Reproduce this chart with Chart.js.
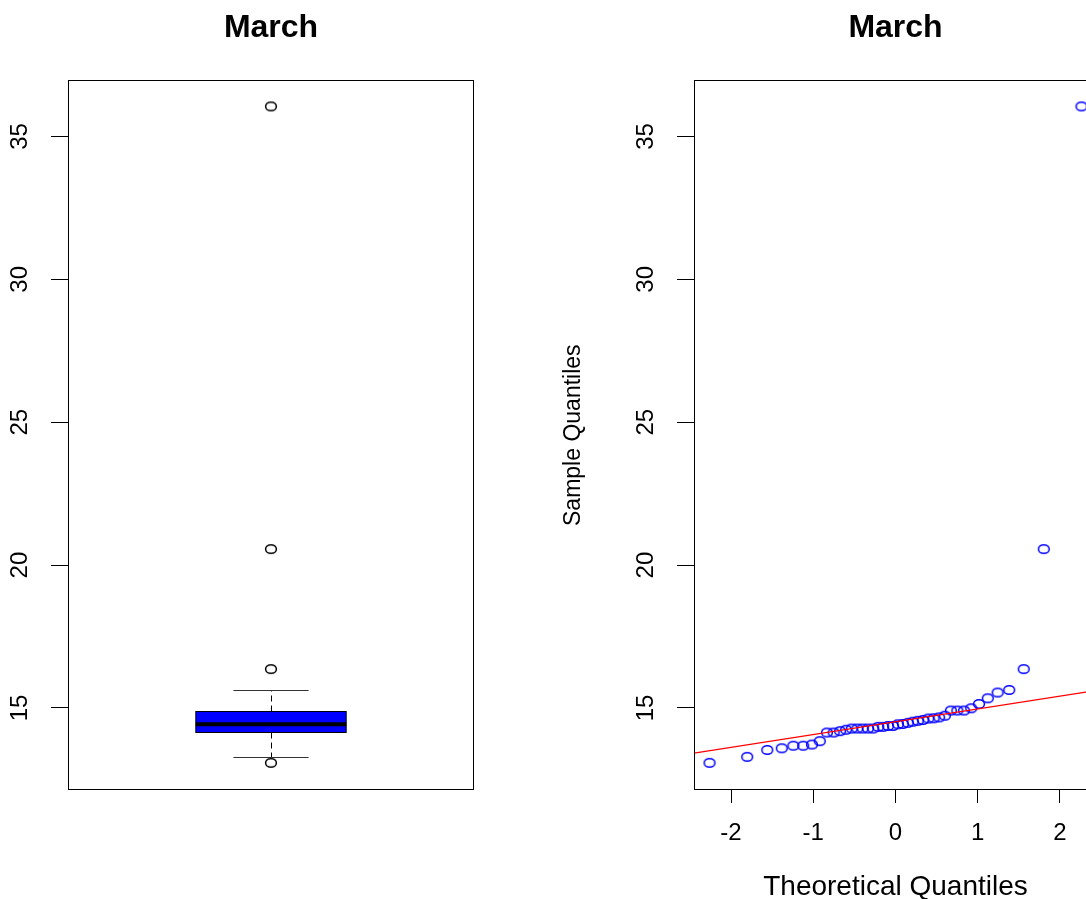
<!DOCTYPE html>
<html>
<head>
<meta charset="utf-8">
<script src="https://cdn.jsdelivr.net/npm/chart.js@4.4.1/dist/chart.umd.min.js"></script>
<style>
  html, body { margin: 0; padding: 0; background: #fff; overflow: hidden; }
  #wrap { position: relative; width: 1086px; height: 899px; overflow: hidden; }
  #boxCanvas { position: absolute; left: 0; top: 0; }
  #qqCanvas { position: absolute; left: 543px; top: 0; }
</style>
</head>
<body>
<div id="wrap">
  <canvas id="boxCanvas" width="542" height="930"></canvas>
  <canvas id="qqCanvas" width="600" height="930"></canvas>
</div>
<script>
// data
const chartTitle = 'March';
const yTicks = [15, 20, 25, 30, 35];
const xTicks = [-2, -1, 0, 1, 2];
const yRange = [12.13, 36.96];
const xRangeQQ = [-2.45, 2.45];

// boxplot: lower whisker, Q1, median, Q3, upper whisker
const boxStats = [13.29, 14.16, 14.43, 14.9, 15.63];
const boxOutliers = [13.08, 16.36, 20.56, 36.05];

// normal QQ plot
const theoQ = [-2.261, -1.803, -1.559, -1.383, -1.242, -1.122, -1.016, -0.921, -0.833, -0.752,
  -0.674, -0.601, -0.531, -0.464, -0.399, -0.335, -0.272, -0.210, -0.150, -0.090, -0.030,
  0.030, 0.090, 0.150, 0.210, 0.272, 0.335, 0.399, 0.464, 0.531, 0.601, 0.674, 0.752,
  0.833, 0.921, 1.016, 1.122, 1.242, 1.383, 1.559, 1.803, 2.261];
const sampleQ = [13.08, 13.29, 13.53, 13.59, 13.68, 13.68, 13.72, 13.84, 14.14, 14.14,
  14.19, 14.24, 14.28, 14.28, 14.28, 14.28, 14.28, 14.34, 14.34, 14.37, 14.37,
  14.43, 14.44, 14.48, 14.52, 14.55, 14.58, 14.63, 14.64, 14.67, 14.73, 14.91, 14.91,
  14.91, 14.99, 15.14, 15.34, 15.54, 15.63, 16.36, 20.56, 36.05];
const qqLine = [14.52, 0.448]; // intercept, slope

const FONT = "'Liberation Sans', Arial, sans-serif";
Chart.defaults.font.family = FONT;
Chart.defaults.color = '#000';

// open ellipse marker (the original circles are a bit wide)
function ringMarker(color) {
  const c = document.createElement('canvas');
  c.width = 14; c.height = 12;
  const g = c.getContext('2d');
  g.strokeStyle = color;
  g.lineWidth = 1.5;
  g.beginPath();
  g.ellipse(7, 6, 5.4, 4.3, 0, 0, Math.PI * 2);
  g.stroke();
  return c;
}

// black frame round the plot area
const frame = {
  id: 'frame',
  afterDatasetsDraw(chart) {
    const { ctx, chartArea: a } = chart;
    ctx.save();
    ctx.strokeStyle = '#000';
    ctx.lineWidth = 1;
    ctx.strokeRect(Math.round(a.left) + 0.5, Math.round(a.top) + 0.5,
      Math.round(a.right - a.left) - 1, Math.round(a.bottom - a.top) - 1);
    ctx.restore();
  }
};

// box, median, whiskers and staples drawn through the chart scales
const boxHalf = 0.2, capHalf = 0.1;
const boxDraw = {
  id: 'boxDraw',
  beforeDatasetsDraw(chart) {
    const { ctx, scales: { x, y } } = chart;
    const [lo, q1, med, q3, hi] = boxStats;
    const xc = Math.round(x.getPixelForValue(1)) + 0.5;
    const xl = x.getPixelForValue(1 - boxHalf), xr = x.getPixelForValue(1 + boxHalf);
    const cl = x.getPixelForValue(1 - capHalf), cr = x.getPixelForValue(1 + capHalf);
    const py = v => Math.round(y.getPixelForValue(v)) + 0.5;

    ctx.save();
    ctx.strokeStyle = '#000';
    ctx.lineWidth = 1;
    ctx.setLineDash([6, 4]);
    ctx.beginPath();
    ctx.moveTo(xc, py(q3)); ctx.lineTo(xc, py(hi));
    ctx.moveTo(xc, py(q1)); ctx.lineTo(xc, py(lo));
    ctx.stroke();
    ctx.setLineDash([]);

    ctx.strokeStyle = '#333';
    ctx.beginPath();
    ctx.moveTo(cl, py(hi)); ctx.lineTo(cr, py(hi));
    ctx.moveTo(cl, py(lo)); ctx.lineTo(cr, py(lo));
    ctx.stroke();

    ctx.fillStyle = '#0000FF';
    ctx.fillRect(xl, py(q3), xr - xl, py(q1) - py(q3));
    ctx.strokeStyle = '#000';
    ctx.strokeRect(xl, py(q3), xr - xl, py(q1) - py(q3));

    ctx.lineWidth = 4;
    ctx.beginPath();
    ctx.moveTo(xl, y.getPixelForValue(med));
    ctx.lineTo(xr, y.getPixelForValue(med));
    ctx.stroke();
    ctx.restore();
  }
};

function yAxis(width, title) {
  return {
    type: 'linear',
    min: yRange[0],
    max: yRange[1],
    afterBuildTicks: s => { s.ticks = yTicks.map(v => ({ value: v })); },
    afterFit: s => { s.width = width; },
    grid: { drawOnChartArea: false, tickLength: 17, tickColor: '#000', tickWidth: 1 },
    border: { display: false },
    ticks: {
      minRotation: 90, maxRotation: 90, crossAlign: 'center', padding: 17,
      color: '#000', font: { family: FONT, size: 24 }
    },
    title: title ? {
      display: true, text: title, color: '#000',
      font: { family: FONT, size: 23 }, padding: { top: 17, bottom: 0 }
    } : { display: false }
  };
}

const titleOpts = {
  display: true,
  text: chartTitle,
  fullSize: false,
  color: '#000',
  font: { family: FONT, size: 32, weight: 'bold' },
  padding: { top: 9, bottom: 33 }
};

// left: boxplot
new Chart(document.getElementById('boxCanvas'), {
  type: 'scatter',
  data: {
    datasets: [{
      label: 'outliers',
      data: boxOutliers.map(v => ({ x: 1, y: v })),
      pointStyle: ringMarker('#000'),
      pointRadius: 5
    }]
  },
  options: {
    responsive: false,
    animation: false,
    layout: { padding: { right: 68, bottom: 140 } },
    plugins: { legend: { display: false }, tooltip: { enabled: false }, title: titleOpts },
    scales: {
      x: { type: 'linear', min: 0.46, max: 1.54, display: false },
      y: yAxis(68, null)
    }
  },
  plugins: [boxDraw, frame]
});

// right: normal QQ plot
new Chart(document.getElementById('qqCanvas'), {
  type: 'scatter',
  data: {
    datasets: [{
      type: 'line',
      label: 'qqline',
      data: xRangeQQ.map(x => ({ x: x, y: qqLine[0] + qqLine[1] * x })),
      borderColor: '#FF0000',
      borderWidth: 1.2,
      pointRadius: 0
    }, {
      label: 'sample',
      data: theoQ.map((q, i) => ({ x: q, y: sampleQ[i] })),
      pointStyle: ringMarker('#0000FF'),
      pointRadius: 5
    }]
  },
  options: {
    responsive: false,
    animation: false,
    layout: { padding: { right: 46 } },
    plugins: { legend: { display: false }, tooltip: { enabled: false }, title: titleOpts },
    scales: {
      x: {
        type: 'linear',
        position: 'bottom',
        min: xRangeQQ[0],
        max: xRangeQQ[1],
        afterBuildTicks: s => { s.ticks = xTicks.map(v => ({ value: v })); },
        afterFit: s => { s.height = 140; },
        grid: { drawOnChartArea: false, tickLength: 13, tickColor: '#000', tickWidth: 1 },
        border: { display: false },
        ticks: { padding: 16, maxRotation: 0, autoSkip: false, color: '#000', font: { family: FONT, size: 24 } },
        title: {
          display: true, text: 'Theoretical Quantiles', color: '#000',
          font: { family: FONT, size: 28 }, padding: { top: 0, bottom: 26 }
        }
      },
      y: yAxis(151, 'Sample Quantiles')
    }
  },
  plugins: [frame]
});
</script>
</body>
</html>
